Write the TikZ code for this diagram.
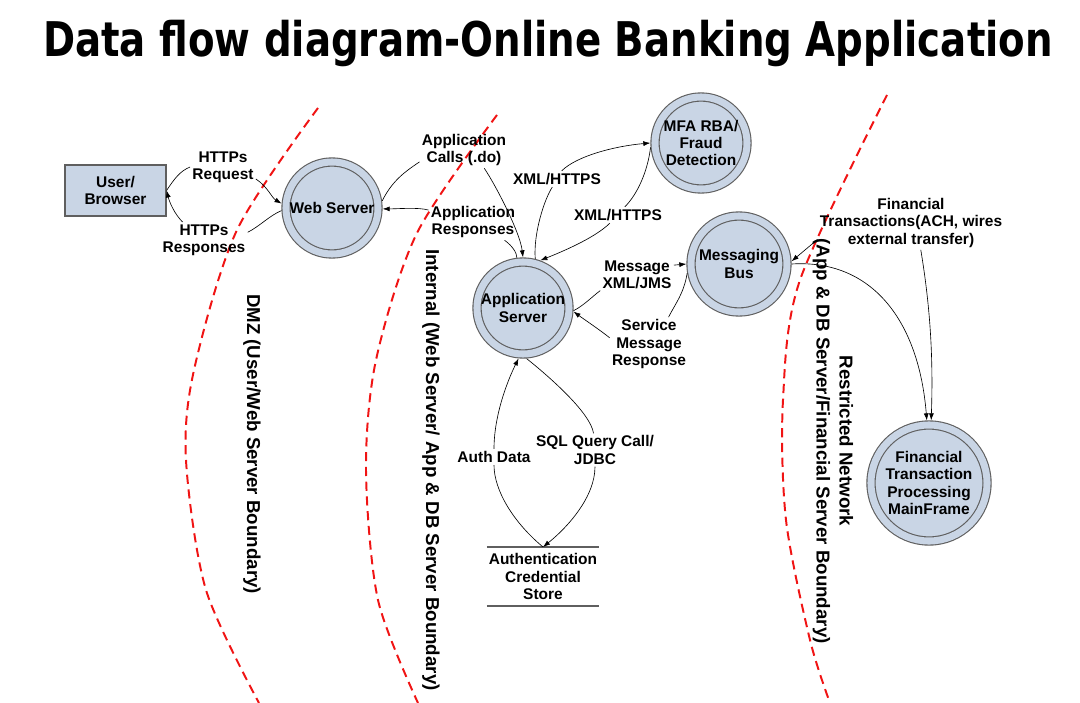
\documentclass[tikz,border=0pt]{standalone}
\usepackage{fontspec}
\usepackage{graphicx}
\setmainfont{Liberation Sans}
\newfontfamily\titlefont{DejaVu Sans}
\usetikzlibrary{arrows.meta}

\definecolor{procfill}{RGB}{201,213,229}
\definecolor{procline}{RGB}{95,95,95}
\definecolor{zonered}{RGB}{240,20,20}

\newcommand{\lblfont}{\bfseries\fontsize{11}{12.3}\selectfont}
\newcommand{\zonefont}{\bfseries\fontsize{13.3}{16.4}\selectfont}

\tikzset{
  proc/.style={circle,draw=procline,line width=0.8pt,double=procfill,double distance=5pt,fill=procfill,outer sep=3.3pt,inner sep=0pt,align=center,font=\lblfont},
  ent/.style={rectangle,draw=procline,line width=0.8pt,fill=procfill,minimum width=2.525cm,minimum height=1.275cm,align=center,font=\lblfont},
  lbl/.style={align=center,font=\lblfont,inner sep=1.5pt},
  zonelbl/.style={rotate=-90,align=center,font=\zonefont},
  zone/.style={zonered,line width=1.4pt,dash pattern=on 6.5pt off 4pt},
  link/.style={draw=black,line width=0.45pt},
  flow/.style={link,-{Latex[length=5pt,width=3.5pt]}}
}

\begin{document}
\begin{tikzpicture}[x=0.025cm,y=-0.025cm]
\useasboundingbox (0,0) rectangle (1080,703);

\node[anchor=base] (ttl) at (548,57) {\titlefont\bfseries\fontsize{34}{40}\selectfont\scalebox{0.81}[1]{Data flow diagram-Online Banking Application}};

% trust boundaries
\draw[zone] plot[smooth] coordinates {(318,108) (237,230) (194,370) (186,460) (206,590) (259,703)};
\draw[zone] plot[smooth] coordinates {(497,115) (417,233) (376,360) (366,470) (378,600) (418,703)};
\draw[zone] plot[smooth] coordinates {(887,95) (800,280) (783,400) (786,520) (810,640) (830,703)};

\node[zonelbl] (dmzlbl) at (252,444) {DMZ (User/Web Server Boundary)};
\node[zonelbl] (intlbl) at (431,470) {Internal (Web Server/ App \& DB Server Boundary)};
\node[zonelbl] (rstlbl) at (833,441) {Restricted Network\\(App \& DB Server/Financial Server Boundary)};

% processes and stores
\node[ent] (user) at (115.5,190.5) {User/\\Browser};
\node[proc,minimum size=2.3cm] (web) at (332,208) {Web Server};
\node[proc,minimum size=2.3cm] (app) at (523,308) {Application\\Server};
\node[proc,minimum size=2.3cm] (mfa) at (701,143) {MFA RBA/\\Fraud\\Detection};
\node[proc,minimum size=2.4cm] (bus) at (739,264) {Messaging\\Bus};
\node[proc,minimum size=2.9cm] (mframe) at (929,483) {Financial\\Transaction\\Processing\\MainFrame};
\node[lbl,outer sep=0pt,minimum width=2.75cm,minimum height=1.475cm] (store) at (543,576.5) {Authentication\\Credential\\Store};
\draw[procline,line width=0.8pt] (store.north west) -- (store.north east);
\draw[procline,line width=0.8pt] (store.south west) -- (store.south east);

% flow labels
\node[lbl] (reqlbl) at (223,167) {HTTPs\\Request};
\node[lbl] (reslbl) at (204,240) {HTTPs\\Responses};
\node[lbl] (calllbl) at (464,150) {Application\\Calls (.do)};
\node[lbl] (arlbl) at (473,222) {Application\\Responses};
\node[lbl] (xmlup) at (557,179) {XML/HTTPS};
\node[lbl] (xmldn) at (618,215) {XML/HTTPS};
\node[lbl] (jmslbl) at (637,275) {Message\\XML/JMS};
\node[lbl] (smrlbl) at (649,344) {Service\\Message\\Response};
\node[lbl] (authlbl) at (494,457) {Auth Data};
\node[lbl] (sqllbl) at (595,450) {SQL Query Call/\\JDBC};
\node[lbl] (finlbl) at (911,223) {Financial\\Transactions(ACH, wires\\external transfer)};

% browser / web server
\draw[link] (user.east) .. controls +(8,-12) and +(-10,4) .. (reqlbl.west);
\draw[flow] (reqlbl.-20) .. controls +(12,8) and +(-10,-6) .. (web.175);
\draw[link] (web.183) .. controls +(-12,5) and +(12,-6) .. (reslbl.10);
\draw[flow] (reslbl.140) .. controls +(-8,-8) and +(3,12) .. (user.east);

% web server / application server
\draw[link] (web.8) .. controls +(10,-20) and +(-15,10) .. (calllbl.195);
\draw[flow] (calllbl.-42) .. controls +(12,18) and +(-3,-25) .. (app.north);
\draw[link] (app.97) .. controls +(0,-5) and +(8,6) .. (arlbl.-30);
\draw[flow] (arlbl.165) .. controls +(-10,-3) and +(15,0) .. (web.-1);

% application server / fraud detection
\draw[link] (app.76) .. controls +(-2,-25) and +(-8,12) .. (xmlup.240);
\draw[flow] (xmlup.60) .. controls +(15,-15) and +(-35,3) .. (mfa.180);
\draw[link] (mfa.185) .. controls +(-3,25) and +(12,-12) .. (xmldn.50);
\draw[flow] (xmldn.225) .. controls +(-15,15) and +(20,-8) .. (app.70);

% application server / messaging bus
\draw[link] (app.-3) .. controls +(10,-5) and +(-8,6) .. (jmslbl.203);
\draw[flow] (jmslbl.15) -- (bus.180);
\draw[link] (bus.190) .. controls +(-3,20) and +(6,-12) .. (smrlbl.54);
\draw[flow] (smrlbl.171) .. controls +(-10,-8) and +(8,6) .. (app.-4);

% application server / credential store
\draw[link] (store.north) .. controls +(-30,-25) and +(0,25) .. (authlbl.south);
\draw[flow] (authlbl.north) .. controls +(0,-35) and +(-10,20) .. (app.-95);
\draw[link] (app.-86) .. controls +(25,20) and +(-3,-20) .. (sqllbl.95);
\draw[flow] (sqllbl.south) .. controls +(0,30) and +(25,-20) .. (store.north);

% messaging bus / mainframe
\draw[flow] (finlbl.190) -- (bus.3);
\draw[flow] (bus.0) .. controls +(80,-5) and +(-8,-100) .. (mframe.92);
\draw[flow] (finlbl.-70) .. controls +(10,60) and +(2,-60) .. (mframe.88);
\end{tikzpicture}
\end{document}
